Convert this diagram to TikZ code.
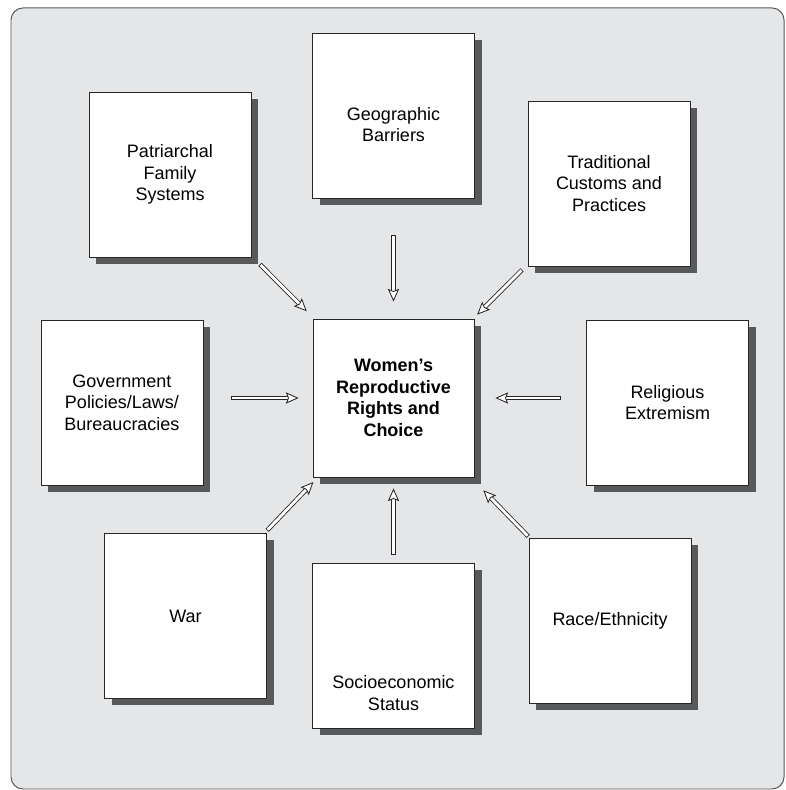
\documentclass[tikz,border=0pt]{standalone}
\usepackage{fontspec}
\setmainfont{Liberation Sans}
\usetikzlibrary{arrows.meta,shadows,positioning}
\definecolor{panelgray}{HTML}{E5E6E8}
\definecolor{shadegray}{HTML}{58595B}

\begin{document}
\begin{tikzpicture}[
	factor/.style={draw=black!85, line width=0.6pt, fill=white, minimum width=4.05cm, minimum height=4.125cm, align=center,
		font=\fontsize{12.8}{15.4}\selectfont,
		drop shadow={shadow xshift=0.175cm, shadow yshift=-0.175cm, fill=shadegray, opacity=1}},
	push/.style={draw=black!85, line width=0.6pt, double=white, double distance=2pt, line cap=rect,
		-{Stealth[length=9pt, width=8pt, inset=1.5pt, fill=white, line width=0.6pt 0 0]}}]
	\useasboundingbox (0,0) rectangle (19.625,19.75);
	\draw [shadegray, fill=panelgray, rounded corners=0.3cm, line width=0.7pt] (0.275,0.025) rectangle (19.6,19.55);

	\node (wrc) at (9.8375,9.8) [factor, minimum width=4.025cm, minimum height=3.95cm, font=\fontsize{12.8}{15.4}\selectfont\bfseries] {Women’s\\Reproductive\\Rights and\\Choice};

	\node (pat) 	at (4.25,15.3875) 		[factor] {Patriarchal\\Family\\Systems};
	\node (geo) 	at (9.8375,16.8625) 	[factor, text height=37.6pt] {Geographic\\Barriers};
	\node (trad) 	at (15.225,15.1625) 	[factor] {Traditional\\Customs and\\Practices};
	\node (gov) 	at (3.05,9.6875) 		[factor] {Government\\Policies/Laws/\\Bureaucracies};
	\node (rel) 	at (16.6875,9.6875) 	[factor] {Religious\\Extremism};
	\node (war) 	at (4.6375,4.35) 		[factor] {War};
	\node (socio) 	at (9.8375,3.6125) 		[factor, text height=92pt] {Socioeconomic\\Status};
	\node (race) 	at (15.25,4.2375) 		[factor] {Race/Ethnicity};

	\draw [push, shorten <=0.36cm, shorten >=0.26cm] (pat) -- (wrc);
	\draw [push, shorten <=0.975cm, shorten >=0.425cm] (geo) -- (wrc);
	\draw [push, shorten <=0.25cm, shorten >=0.14cm] (trad) -- (wrc);
	\draw [push, shorten <=0.75cm, shorten >=0.35cm] (gov.east |- wrc) -- (wrc);
	\draw [push, shorten <=0.675cm, shorten >=0.525cm] (rel.west |- wrc) -- (wrc);
	\draw [push, shorten <=0.15cm, shorten >=0.16cm] (war) -- (wrc);
	\draw [push, shorten <=0.25cm, shorten >=0.275cm] (socio) -- (wrc);
	\draw [push, shorten <=0.1cm, shorten >=0.45cm] (race) -- (wrc);
\end{tikzpicture}
\end{document}
